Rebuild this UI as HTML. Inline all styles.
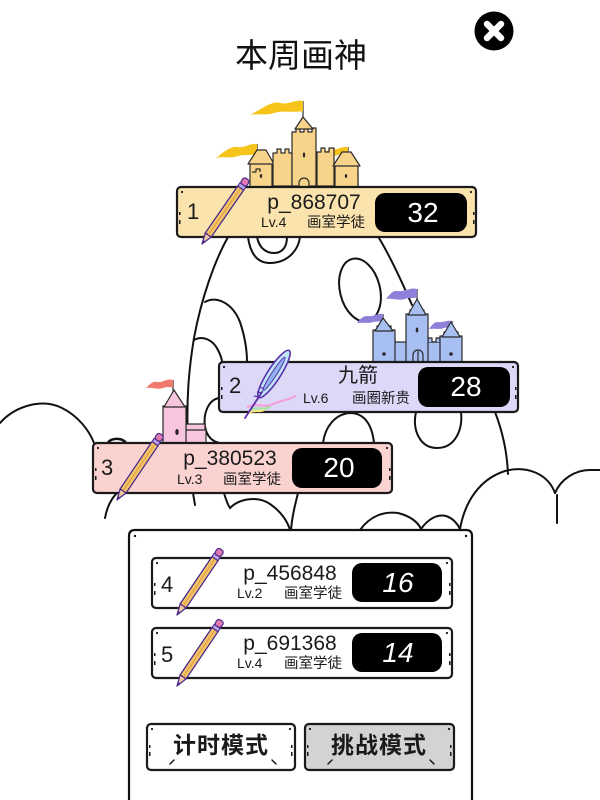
<!DOCTYPE html>
<html><head><meta charset="utf-8"><style>
html,body{margin:0;padding:0;background:#fff;}
svg{display:block;}
text{font-family:"Liberation Sans","Noto Sans CJK SC",sans-serif;}
.cj{font-family:"Liberation Sans","Noto Sans CJK SC",sans-serif;}
</style></head><body>
<svg width="600" height="800" viewBox="0 0 600 800" xmlns="http://www.w3.org/2000/svg">
<rect width="600" height="800" fill="#fff"/>

<!-- background line art -->
<g fill="none" stroke="#111" stroke-width="2" stroke-linecap="round">
  <!-- egg left outline -->
  <path d="M228,237 C214,262 201,300 194,338 C189,368 186,400 188,443"/>
  <path d="M193,493 L195,505"/>
  <!-- egg right outline -->
  <path d="M379,238 C391,258 402,282 412,305"/>
  <path d="M495,412 C502,430 507,450 508,474"/>
  <!-- loop below card1 -->
  <path d="M248,237 C250,252 256,263 270,263 C286,263 298,252 300,237"/>
  <path d="M257,237 C259,247 265,253 274,253 C283,253 287,246 287,237"/>
  <!-- oval D -->
  <ellipse cx="360" cy="290" rx="20" ry="32" transform="rotate(-14 360 290)"/>
  <!-- arch A -->
  <path d="M205,302 C216,296 232,302 240,322 C245,337 247,350 247,362"/>
  <!-- arch B -->
  <path d="M194,340 C203,335 213,340 218,350 C221,356 222,360 222,362"/>
  <!-- loop E -->
  <path d="M219,398 C208,400 203,414 205,427 C207,437 213,442 220,443"/>
  <!-- arch right of card3 -->
  <path d="M323,443 C325,427 335,414 350,413 C364,413 372,424 374,443"/>
  <!-- oval F below card2 -->
  <path d="M416,412 C412,430 420,448 437,448 C455,448 463,430 461,412"/>
  <!-- left cloud -->
  <path d="M0,423 C15,406 42,398 62,408 C78,416 89,430 94,443"/>
  <path d="M105,518 C107,507 111,499 117,493"/>
  <!-- stubs below card 3 -->
  <path d="M298,493 C295,505 292,517 291,530"/>
  <path d="M224,493 C226,500 228,505 230,508 C240,498 258,496 270,504 C280,511 287,520 290,530"/>
  <!-- bottom clouds -->
  <path d="M360,530 C370,516 384,511 398,513 C410,516 418,522 421,529"/>
  <path d="M421,529 C428,519 437,514 446,516 C452,518 457,523 460,529"/>
  <!-- right cloud -->
  <path d="M460,529 C465,501 480,479 505,471 C527,465 548,474 555,493"/>
  <path d="M555,493 C561,479 575,470 590,470 L601,470"/>
  <path d="M557,495 L557,523"/>
  <!-- small bump on card3 top -->
  <path d="M108,443 C110,438 122,437 126,443" stroke-width="2.5"/>
</g>

<!-- Castle 1 (yellow) -->
<g stroke="#2a2a2a" stroke-width="1.2" stroke-linejoin="round">
  <!-- flags -->
  <line x1="303" y1="101" x2="303" y2="120"/>
  <path d="M303,101 C295,99 289,105 281,103 C273,101 266,106 259,110 C255,112 252,114 250,115 C258,113 265,116 274,113 C284,110 292,113 303,111 Z" fill="#f7c41c" stroke="none"/>
  <line x1="257" y1="144" x2="257" y2="158"/>
  <path d="M257,144 C250,143 245,148 238,147 C232,146 226,150 221,154 C219,156 217,157 216,158 C224,156 230,159 238,156 C246,154 251,156 257,154 Z" fill="#f7c41c" stroke="none"/>
  <line x1="348" y1="147" x2="348" y2="160"/>
  <path d="M348,147 C342,146 338,150 333,149 C329,148 325,152 321,156 C328,155 332,157 338,155 C342,154 345,155 348,154 Z" fill="#f7c41c" stroke="none"/>
  <!-- wall -->
  <rect x="252" y="172" width="106" height="16" fill="#f8d48b"/>
  <!-- left tower -->
  <rect x="250" y="163" width="22" height="25" fill="#f8d48b"/>
  <polygon points="248,164 257,150 266,150 274,164" fill="#f8d48b"/>
  <!-- mid-left tower -->
  <path d="M273,186 V153 H277 V149 H281 V153 H285 V149 H289 V153 H292 V186 Z" fill="#f8d48b"/>
  <!-- central tower -->
  <path d="M292,186 V132 H296 V128 H300 V132 H304 V128 H308 V132 H312 V128 H316 V186 Z" fill="#f8d48b"/>
  <polygon points="295,129 303,117 313,129" fill="#f8d48b"/>
  <!-- mid-right tower -->
  <path d="M317,186 V152 H321 V148 H325 V152 H329 V148 H334 V186 Z" fill="#f8d48b"/>
  <!-- right tower -->
  <rect x="335" y="165" width="23" height="23" fill="#f8d48b"/>
  <polygon points="333,166 342,152 351,152 360,166" fill="#f8d48b"/>
  <!-- crenels on wall -->
  <path d="M252,172 h4 v-3 h4 v3" fill="#f8d48b"/>
  <!-- door -->
  <path d="M299,188 V183 A5,5 0 0 1 309,183 V188" fill="#f8d48b"/>
  <ellipse cx="304" cy="155" rx="1.2" ry="2.5" fill="#2a2a2a" stroke="none"/>
  <ellipse cx="261" cy="176" rx="1.2" ry="2" fill="#2a2a2a" stroke="none"/>
  <ellipse cx="346" cy="176" rx="1.2" ry="2" fill="#2a2a2a" stroke="none"/>
</g>

<!-- Castle 2 (blue) -->
<g stroke="#2a2a2a" stroke-width="1.2" stroke-linejoin="round">
  <line x1="417" y1="289" x2="417" y2="300"/>
  <path d="M417,289 C410,287 405,292 398,291 C393,290 390,294 386,299 C393,298 398,301 405,299 C410,297 413,299 417,297 Z" fill="#8d80d8" stroke="none"/>
  <line x1="383" y1="314" x2="383" y2="322"/>
  <path d="M383,314 C377,313 373,317 367,316 C363,316 360,319 357,323 C363,322 368,324 373,322 C377,321 380,322 383,321 Z" fill="#8d80d8" stroke="none"/>
  <line x1="452" y1="321" x2="452" y2="328"/>
  <path d="M452,321 C446,320 443,323 438,322 C434,322 432,325 429,329 C435,328 439,330 444,328 C447,327 450,328 452,327 Z" fill="#8d80d8" stroke="none"/>
  <rect x="380" y="342" width="76" height="21" fill="#a8bff2"/>
  <path d="M380,342 v-4 h5 v4 h5 v-4 h5 v4" fill="#a8bff2"/>
  <path d="M428,342 v-4 h4 v4 h4 v-4 h4 v4" fill="#a8bff2"/>
  <path d="M373,363 V330 H377 V326 H381 V330 H387 V326 H391 V330 H395 V363 Z" fill="#a8bff2"/>
  <polygon points="375,331 383,318 393,331" fill="#a8bff2"/>
  <path d="M406,363 V314 H410 V310 H414 V314 H420 V310 H424 V314 H428 V363 Z" fill="#a8bff2"/>
  <polygon points="408,315 417,299 426,315" fill="#a8bff2"/>
  <path d="M440,363 V336 H444 V332 H448 V336 H454 V332 H458 V336 H462 V363 Z" fill="#a8bff2"/>
  <polygon points="442,337 451,322 460,337" fill="#a8bff2"/>
  <path d="M413,363 V355 A5,5 0 0 1 423,355 V363" fill="#a8bff2"/>
  <line x1="418" y1="351" x2="418" y2="362"/>
  <circle cx="384" cy="354" r="1.8" fill="#2a2a2a" stroke="none"/>
  <circle cx="451" cy="354" r="1.8" fill="#2a2a2a" stroke="none"/>
  <ellipse cx="417" cy="330" rx="1.3" ry="2.5" fill="#2a2a2a" stroke="none"/>
</g>

<!-- Castle 3 (pink) -->
<g stroke="#2a2a2a" stroke-width="1.2" stroke-linejoin="round">
  <line x1="173" y1="380" x2="173" y2="392"/>
  <path d="M173,380 C167,378 163,383 157,382 C153,381 150,384 146,388 C152,387 157,390 163,388 C167,386 170,388 173,387 Z" fill="#f07a6e" stroke="none"/>
  <rect x="185" y="428" width="21" height="15" fill="#f7c6de"/>
  <rect x="186" y="424" width="19" height="6" fill="#f7c6de"/>
  <path d="M163,443 V406 H167 V402 H171 V406 H177 V402 H181 V406 H186 V443 Z" fill="#f7c6de"/>
  <polygon points="164,407 174,390 185,407" fill="#f7c6de"/>
  <ellipse cx="177" cy="432" rx="1.8" ry="3" fill="#2a2a2a" stroke="none"/>
</g>

<!-- Bottom panel -->
<path d="M129,801 V536 Q129,530 135,530 H466 Q472,530 472,536 V801" fill="#fff" stroke="#111" stroke-width="2.2"/>
<circle cx="135" cy="536" r="1.2" fill="#111"/><circle cx="466" cy="536" r="1.2" fill="#111"/>

<!-- Card template styles -->
<g stroke="#1a1a1a" stroke-width="2.2">
  <rect x="177" y="187" width="299" height="50" rx="4" fill="#fbe3ae"/>
  <rect x="219" y="362" width="299" height="50" rx="4" fill="#dcd9f8"/>
  <rect x="93" y="443" width="299" height="50" rx="4" fill="#fad3d1"/>
  <rect x="152" y="558" width="300" height="50" rx="4" fill="#fff"/>
  <rect x="152" y="628" width="300" height="50" rx="4" fill="#fff"/>
  <rect x="147" y="724" width="148" height="46" rx="4" fill="#fff"/>
  <rect x="305" y="724" width="149" height="46" rx="4" fill="#d3d3d3"/>
</g>
<!-- corner dots and edge marks -->
<g fill="#1a1a1a">
  <circle cx="182" cy="192" r="1.1"/><circle cx="471" cy="192" r="1.1"/>
  <rect x="179" y="212" width="1.5" height="3"/><rect x="179" y="220" width="1.5" height="4"/>
  <rect x="473" y="212" width="1.5" height="3"/><rect x="473" y="220" width="1.5" height="4"/>
  <circle cx="224" cy="367" r="1.1"/><circle cx="513" cy="367" r="1.1"/>
  <rect x="221" y="387" width="1.5" height="3"/><rect x="221" y="395" width="1.5" height="4"/>
  <rect x="515" y="387" width="1.5" height="3"/><rect x="515" y="395" width="1.5" height="4"/>
  <circle cx="98" cy="448" r="1.1"/><circle cx="387" cy="448" r="1.1"/>
  <rect x="95" y="468" width="1.5" height="3"/><rect x="95" y="476" width="1.5" height="4"/>
  <rect x="389" y="468" width="1.5" height="3"/><rect x="389" y="476" width="1.5" height="4"/>
  <circle cx="157" cy="563" r="1.1"/><circle cx="447" cy="563" r="1.1"/>
  <rect x="154" y="583" width="1.5" height="3"/><rect x="154" y="591" width="1.5" height="4"/>
  <rect x="449" y="583" width="1.5" height="3"/><rect x="449" y="591" width="1.5" height="4"/>
  <circle cx="157" cy="633" r="1.1"/><circle cx="447" cy="633" r="1.1"/>
  <rect x="154" y="653" width="1.5" height="3"/><rect x="154" y="661" width="1.5" height="4"/>
  <rect x="449" y="653" width="1.5" height="3"/><rect x="449" y="661" width="1.5" height="4"/>
  <circle cx="152" cy="729" r="1.1"/><circle cx="290" cy="729" r="1.1"/>
  <rect x="149" y="745" width="1.5" height="3"/><rect x="149" y="752" width="1.5" height="4"/>
  <rect x="291" y="745" width="1.5" height="3"/><rect x="291" y="752" width="1.5" height="4"/>
  <circle cx="310" cy="729" r="1.1"/><circle cx="449" cy="729" r="1.1"/>
  <rect x="307" y="745" width="1.5" height="3"/><rect x="307" y="752" width="1.5" height="4"/>
  <rect x="450" y="745" width="1.5" height="3"/><rect x="450" y="752" width="1.5" height="4"/>
</g>
<g stroke="#1a1a1a" stroke-width="1.5" stroke-linecap="round">
  <line x1="170" y1="764" x2="174" y2="760"/><line x1="272" y1="760" x2="276" y2="764"/>
  <line x1="328" y1="764" x2="332" y2="760"/><line x1="430" y1="760" x2="434" y2="764"/>
</g>

<!-- score boxes -->
<g fill="#000">
  <rect x="375" y="193" width="92" height="39" rx="10"/>
  <rect x="418" y="367" width="92" height="40" rx="10"/>
  <rect x="292" y="448" width="90" height="40" rx="10"/>
  <rect x="352" y="563" width="90" height="39" rx="10"/>
  <rect x="352" y="633" width="90" height="39" rx="10"/>
</g>
<g fill="#fff" font-size="28" text-anchor="middle">
  <text x="423" y="222">32</text>
  <text x="466" y="396">28</text>
  <text x="339" y="477">20</text>
  <text x="398" y="592" font-style="italic">16</text>
  <text x="398" y="662" font-style="italic">14</text>
</g>

<!-- rank numbers -->
<g fill="#1a1a1a" font-size="22">
  <text x="187" y="219">1</text>
  <text x="229" y="393">2</text>
  <text x="101" y="475">3</text>
  <text x="161" y="592">4</text>
  <text x="161" y="662">5</text>
</g>
<!-- names -->
<g fill="#1a1a1a" font-size="21" text-anchor="middle">
  <text x="314" y="209">p_868707</text>
  <text x="230" y="465">p_380523</text>
  <text x="290" y="580">p_456848</text>
  <text x="290" y="650">p_691368</text>
  <text x="358" y="382" font-size="20">九箭</text>
</g>
<!-- subtitles -->
<g fill="#1a1a1a" font-size="14">
  <text x="261" y="227">Lv.4</text><text x="307" y="227" font-size="14.5">画室学徒</text>
  <text x="303" y="403">Lv.6</text><text x="352" y="403" font-size="14.5">画圈新贵</text>
  <text x="177" y="484">Lv.3</text><text x="223" y="484" font-size="14.5">画室学徒</text>
  <text x="237" y="598">Lv.2</text><text x="284" y="598" font-size="14.5">画室学徒</text>
  <text x="237" y="668">Lv.4</text><text x="284" y="668" font-size="14.5">画室学徒</text>
</g>

<!-- buttons text -->
<text x="221" y="753" font-size="23" font-weight="bold" text-anchor="middle" fill="#1a1a1a" letter-spacing="1">计时模式</text>
<text x="379" y="753" font-size="23" font-weight="bold" text-anchor="middle" fill="#1a1a1a" letter-spacing="1">挑战模式</text>

<!-- title -->
<text x="301" y="67" font-size="33" text-anchor="middle" fill="#111">本周画神</text>

<!-- close button -->
<circle cx="494" cy="31" r="19.5" fill="#000"/>
<g stroke="#fff" stroke-width="6.5" stroke-linecap="round">
  <line x1="487" y1="24" x2="501" y2="38"/><line x1="501" y1="24" x2="487" y2="38"/>
</g>

<!-- pencils -->
<defs>
  <g id="pencil">
    <polygon points="0,0 11,-3.6 11,3.6" fill="#ecc9a0" stroke="#4b2a8c" stroke-width="1.3" stroke-linejoin="round"/>
    <polygon points="0,0 4,-1.4 4,1.4" fill="#4b2a8c"/>
    <rect x="11" y="-3.6" width="57" height="7.2" fill="#f2c46a" stroke="#4b2a8c" stroke-width="1.3"/>
    <line x1="11" y1="0" x2="68" y2="0" stroke="#e09a3c" stroke-width="1"/>
    <rect x="68" y="-3.6" width="4" height="7.2" fill="#b9a3e6" stroke="#4b2a8c" stroke-width="1.1"/>
    <rect x="72" y="-3.6" width="7" height="7.2" rx="2.5" fill="#e079b0" stroke="#4b2a8c" stroke-width="1.2"/>
  </g>
</defs>
<use href="#pencil" transform="translate(202,244) rotate(-55.3)"/>
<use href="#pencil" transform="translate(117,500) rotate(-56)"/>
<use href="#pencil" transform="translate(177,615) rotate(-56)"/>
<use href="#pencil" transform="translate(177,686) rotate(-56)"/>

<!-- feather on card 2 -->
<g>
  <path d="M248,407 C258,402 264,409 273,404 C281,400 287,401 295,396" fill="none" stroke="#f5a0d8" stroke-width="2.2" stroke-linecap="round"/>
  <path d="M250,410 C258,406 263,411 270,407" fill="none" stroke="#9fe7a0" stroke-width="2" stroke-linecap="round"/>
  <path d="M249,413 C255,409 259,413 264,410" fill="none" stroke="#f7e47a" stroke-width="2" stroke-linecap="round"/>
  <ellipse cx="274" cy="374" rx="28" ry="6.5" transform="rotate(-57 274 374)" fill="#bfe6f7" stroke="#5a2fa8" stroke-width="1.6"/>
  <ellipse cx="274" cy="374" rx="20" ry="2.5" transform="rotate(-57 274 374)" fill="#8fb4f0" stroke="#5a2fa8" stroke-width="1"/>
  <line x1="262" y1="392" x2="245" y2="418" stroke="#5a2fa8" stroke-width="1.8" stroke-linecap="round"/>
  <path d="M262,393 l-5,-1 M259,397 l-5,-1 M264,389 l-4,-2" stroke="#5a2fa8" stroke-width="1.2"/>
</g>
</svg>
</body></html>
